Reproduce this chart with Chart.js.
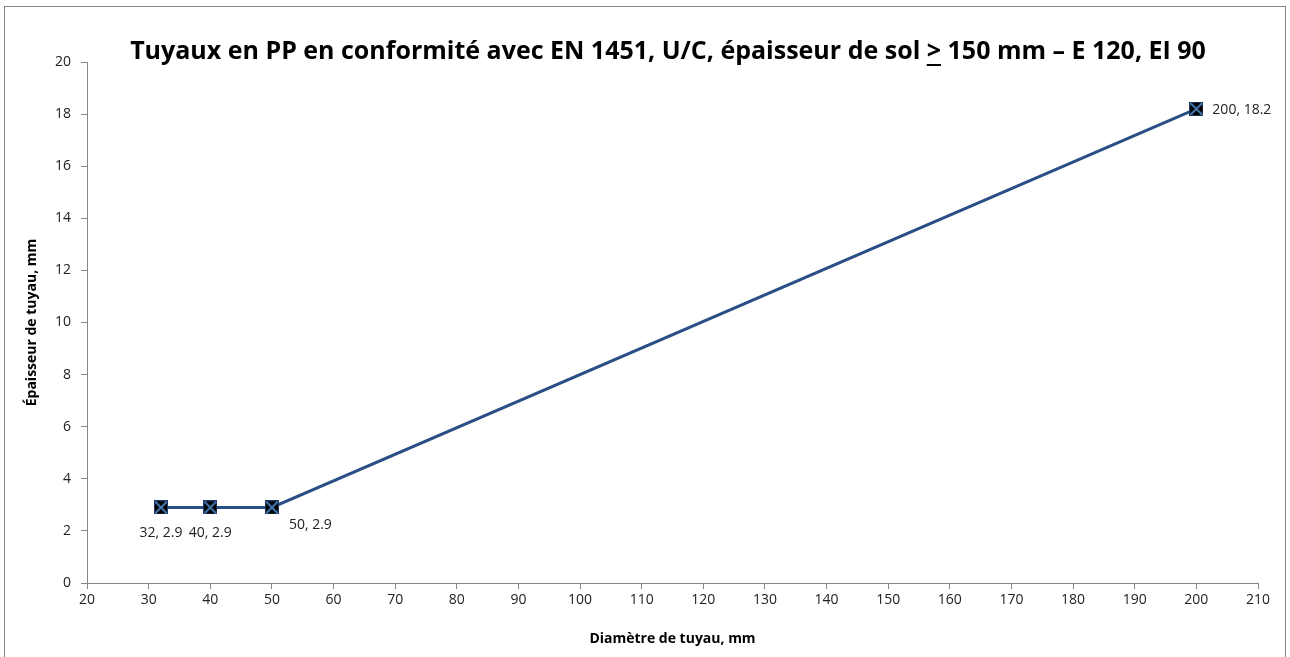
<!DOCTYPE html>
<html>
<head>
<meta charset="utf-8">
<script src="https://cdn.jsdelivr.net/npm/chart.js@4/dist/chart.umd.min.js"></script>
<style>
  html, body { margin: 0; padding: 0; background: #fff; }
  #wrap { width: 1290px; height: 657px; }
</style>
</head>
<body>
<div id="wrap"><canvas id="pipeChart"></canvas></div>
<script>
// data
const diameters = [32, 40, 50, 200];
const thickness = [2.9, 2.9, 2.9, 18.2];
const xTicks = { min: 20, max: 210, step: 10 };
const yTicks = { min: 0, max: 20, step: 2 };

const titleText = 'Tuyaux en PP en conformité avec EN 1451, U/C, épaisseur de sol > 150 mm – E 120, EI 90';
const xTitle = 'Diamètre de tuyau, mm';
const yTitle = 'Épaisseur de tuyau, mm';

const FONT = "'Open Sans', 'Noto Sans', sans-serif";

// marker: black square with a blue cross
function makeMarker() {
  const c = document.createElement('canvas');
  c.width = 14; c.height = 14;
  const g = c.getContext('2d');
  g.fillStyle = '#000';
  g.fillRect(0, 0, 14, 14);
  g.strokeStyle = '#4A7EBB';
  g.lineWidth = 1.8;
  g.beginPath();
  g.moveTo(1, 1); g.lineTo(13, 13);
  g.moveTo(13, 1); g.lineTo(1, 13);
  g.stroke();
  g.strokeStyle = '#1F3864';
  g.lineWidth = 1;
  g.strokeRect(0.5, 0.5, 13, 13);
  return c;
}

// where each label sits relative to its point
const labelPlace = [
  { dx: 0, dy: 26, align: 'center' },
  { dx: 0, dy: 26, align: 'center' },
  { dx: 17, dy: 18, align: 'left' },
  { dx: 16, dy: 1, align: 'left' }
];

const framePlugin = {
  id: 'frame',
  afterDraw(chart) {
    const ctx = chart.ctx;
    ctx.save();
    // outer border
    ctx.strokeStyle = '#868686';
    ctx.lineWidth = 1;
    ctx.strokeRect(4.5, 6.5, 1281, 700);

    // title with underlined ">"
    ctx.font = 'bold 25px ' + FONT;
    ctx.fillStyle = '#000';
    ctx.textBaseline = 'middle';
    ctx.textAlign = 'left';
    const w = ctx.measureText(titleText).width;
    const x0 = 668 - w / 2;
    ctx.fillText(titleText, x0, 52);
    const idx = titleText.indexOf('>');
    const pre = ctx.measureText(titleText.slice(0, idx)).width;
    const gw = ctx.measureText('>').width;
    ctx.fillRect(x0 + pre, 64, gw, 2);

    // data labels
    const meta = chart.getDatasetMeta(0);
    ctx.font = '14px ' + FONT;
    ctx.fillStyle = '#222';
    meta.data.forEach((pt, i) => {
      const p = labelPlace[i];
      ctx.textAlign = p.align;
      ctx.fillText(diameters[i] + ', ' + thickness[i], pt.x + p.dx, pt.y + p.dy);
    });
    ctx.restore();
  }
};

const ctx = document.getElementById('pipeChart').getContext('2d');
const pipeChart = new Chart(ctx, {
  type: 'scatter',
  data: {
    datasets: [{
      data: diameters.map((d, i) => ({ x: d, y: thickness[i] })),
      showLine: true,
      borderColor: '#2A4F86',
      borderWidth: 3,
      pointStyle: makeMarker(),
      pointRadius: 7,
      pointHoverRadius: 7
    }]
  },
  options: {
    responsive: true,
    maintainAspectRatio: false,
    animation: false,
    events: [],
    layout: { padding: { top: 62, right: 32, left: 0, bottom: 0 } },
    plugins: {
      legend: { display: false },
      tooltip: { enabled: false },
      title: { display: false }
    },
    scales: {
      x: {
        type: 'linear',
        min: xTicks.min,
        max: xTicks.max,
        afterFit(scale) { scale.height = 74; },
        ticks: {
          stepSize: xTicks.step,
          padding: 3,
          color: '#222',
          font: { family: FONT, size: 14 }
        },
        grid: { drawOnChartArea: false, tickLength: 6, color: '#868686' },
        border: { color: '#868686' },
        title: {
          display: true,
          text: xTitle,
          color: '#000',
          padding: { top: 10, bottom: 10 },
          font: { family: FONT, size: 14, weight: 'bold' }
        }
      },
      y: {
        min: yTicks.min,
        max: yTicks.max,
        afterFit(scale) { scale.width = 87; },
        ticks: {
          stepSize: yTicks.step,
          padding: 10,
          color: '#222',
          font: { family: FONT, size: 14 }
        },
        grid: { drawOnChartArea: false, tickLength: 6, color: '#868686' },
        border: { color: '#868686' },
        title: {
          display: true,
          text: yTitle,
          color: '#000',
          padding: { top: 24, bottom: 0 },
          font: { family: FONT, size: 14, weight: 'bold' }
        }
      }
    }
  },
  plugins: [framePlugin]
});
</script>
</body>
</html>
